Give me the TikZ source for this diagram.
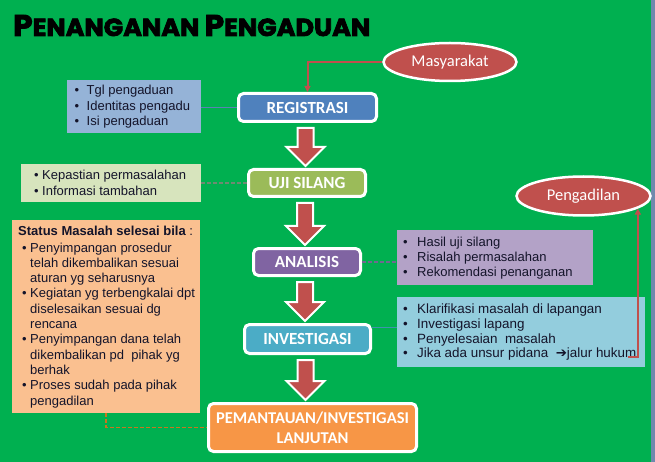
\documentclass[tikz,border=0pt]{standalone}
\usepackage{fontspec}
\usepackage{graphicx}
\setmainfont{Liberation Sans}
\newfontfamily\carlito{Carlito}
\newfontfamily\titlefont{Poppins}[BoldFeatures={FakeBold=3}]
\newfontfamily\dejavu{DejaVu Sans}
\usetikzlibrary{calc,arrows.meta,shapes.geometric}
\definecolor{bg}{HTML}{00B050}
\definecolor{strip}{HTML}{7089AD}
\definecolor{redc}{HTML}{C0504D}
\definecolor{regc}{HTML}{4F81BD}
\definecolor{ujic}{HTML}{9BBB59}
\definecolor{anac}{HTML}{8064A2}
\definecolor{invc}{HTML}{4BACC6}
\definecolor{pemc}{HTML}{F79646}
\definecolor{ibl}{HTML}{95B3D7}
\definecolor{igr}{HTML}{D7E4BD}
\definecolor{ipu}{HTML}{B3A2C7}
\definecolor{ilb}{HTML}{93CDDD}
\definecolor{ior}{HTML}{FAC090}
\definecolor{txt}{HTML}{14142A}
\definecolor{lnblue}{HTML}{5A82B4}
\definecolor{lngray}{HTML}{6F8A72}
\definecolor{lnpur}{HTML}{6F6A8F}
\definecolor{lnlb}{HTML}{3F93AE}
\definecolor{lnor}{HTML}{C8761E}
\newcommand{\bl}[2][12pt]{\makebox[#1][l]{\textbullet}#2}
\newcommand{\ob}{\hspace*{4pt}\makebox[8pt][l]{\textbullet}}
\newcommand{\oi}{\hspace*{12pt}}
\newcommand{\barrow}[2]{%
  \draw[blockarr] let \p1=($(#1.south)+(-2,5)$), \p2=($(#2.north)+(-2,-2)$) in
  (\x1-8pt,\y1) -- (\x1+8pt,\y1) -- (\x1+8pt,\y2+19pt) -- (\x1+19pt,\y2+19pt)
  -- (\x1,\y2) -- (\x1-19pt,\y2+19pt) -- (\x1-8pt,\y2+19pt) -- cycle;}
\begin{document}
\begin{tikzpicture}[x=1pt,y=-1pt,
  stage/.style={draw=white, line width=3pt, rounded corners=5pt, text=white,
    font=\carlito\bfseries\fontsize{17}{20}\selectfont, inner sep=0pt, align=center},
  oval/.style={ellipse, draw=white, line width=2.5pt, fill=redc, text=white,
    font=\carlito\fontsize{16.5}{20}\selectfont, inner sep=0pt},
  infobox/.style={inner sep=0pt, anchor=north west},
  infotext/.style={inner sep=0pt, anchor=west, align=left, text=txt,
    font=\fontsize{13}{15.5}\selectfont},
  redline/.style={draw=redc, line width=2pt, -{Triangle[length=6pt,width=6pt]}},
  blockarr/.style={fill=redc, draw=white, line width=2pt, line join=miter},
  dashline/.style={line width=1.5pt, dash pattern=on 4pt off 2pt}
]
\fill[bg] (0,0) rectangle (655,462);
\fill[strip] (651,0) rectangle (655,462);
\useasboundingbox (0,0) rectangle (655,462);

% title
\node[anchor=base west, inner sep=0pt] (title) at (13,36)
  {\resizebox{357pt}{21pt}{\titlefont\bfseries\fontsize{28}{30}\selectfont P\fontsize{23}{25}\selectfont ENANGANAN\ \fontsize{28}{30}\selectfont P\fontsize{23}{25}\selectfont ENGADUAN}};

% stages
\node[stage, fill=regc, minimum width=138, minimum height=28] (reg) at (307.5,107.5) {REGISTRASI};
\node[stage, fill=ujic, minimum width=117, minimum height=27] (uji) at (307,183) {UJI SILANG};
\node[stage, fill=anac, minimum width=107, minimum height=27] (ana) at (307,262) {ANALISIS};
\node[stage, fill=invc, minimum width=126, minimum height=29] (inv) at (307.5,339) {INVESTIGASI};
\node[stage, fill=pemc, minimum width=208, minimum height=48,
  font=\carlito\bfseries\fontsize{16.5}{20}\selectfont] (pem) at (312.5,427.5) {PEMANTAUAN/INVESTIGASI\\LANJUTAN};

% ovals
\node[oval, minimum width=133, minimum height=38] (mas) at (450,62) {Masyarakat};
\node[oval, minimum width=134, minimum height=39] (pen) at (583.5,196) {Pengadilan};

% info boxes
\node[infobox, fill=ibl, minimum width=134, minimum height=53] (tgl) at (67,80) {};
\node[infotext] (tgltx) at ([xshift=7.5pt]tgl.west)
  {\bl{Tgl pengaduan}\\\bl{Identitas pengadu}\\\bl{Isi pengaduan}};

\node[infobox, fill=igr, minimum width=180, minimum height=38] (kep) at (21,164) {};
\node[infotext, font=\fontsize{13}{16}\selectfont] (keptx) at ([xshift=13pt]kep.west)
  {\bl[8pt]{Kepastian permasalahan}\\\bl[8pt]{Informasi tambahan}};

\node[infobox, fill=ipu, minimum width=196, minimum height=55] (has) at (397,230) {};
\node[infotext, font=\fontsize{13}{15}\selectfont] (hastx) at ([xshift=6pt]has.west)
  {\bl[14pt]{Hasil uji silang}\\\bl[14pt]{Risalah permasalahan}\\\bl[14pt]{Rekomendasi penanganan}};

\node[infobox, fill=ilb, minimum width=248, minimum height=70] (klr) at (397,297) {};
\node[infotext, font=\fontsize{13.4}{14.7}\selectfont] (klrtx) at ([xshift=6pt]klr.west)
  {\bl[14pt]{Klarifikasi masalah di lapangan}\\\bl[14pt]{Investigasi lapang}\\
   \bl[14pt]{Penyelesaian\ \ masalah}\\\bl[14pt]{Jika ada unsur pidana\ \ {\dejavu ➔}jalur hukum}};

\node[infobox, fill=ior, minimum width=188, minimum height=193] (sts) at (12,220) {};
\node[infotext, font=\fontsize{13}{15.3}\selectfont] (ststx) at ([xshift=6pt]sts.west)
  {{\bfseries Status Masalah selesai bila} :\\[1.7pt]
   \ob Penyimpangan prosedur\\
   \oi telah dikembalikan sesuai\\
   \oi aturan yg seharusnya\\
   \ob Kegiatan yg terbengkalai dpt\\
   \oi diselesaikan sesuai dg\\
   \oi rencana\\
   \ob Penyimpangan dana telah\\
   \oi dikembalikan pd\ \ pihak yg\\
   \oi berhak\\
   \ob Proses sudah pada pihak\\
   \oi pengadilan};

\coordinate (hk) at (628,356.5);

% connectors
\draw[lnblue, line width=1.5pt] (tgl.east |- reg.west) -- (reg.west);
\draw[lngray, dashline] (uji.west -| kep.east) -- (uji.west);
\draw[lnpur, dashline] (ana.east) -- (ana.east -| has.west);
\draw[lnlb, line width=1pt] ([yshift=12pt]inv.east) -- ([yshift=12pt]inv.east -| klr.west);
\draw[lnor, dashline] (sts.south) |- (pem.west);
\draw[redline] (mas.west) -| (reg.north);
\draw[redline] (hk) -| (pen.-13);

% block arrows
\barrow{reg}{uji}
\barrow{uji}{ana}
\barrow{ana}{inv}
\barrow{inv}{pem}
\end{tikzpicture}
\end{document}
